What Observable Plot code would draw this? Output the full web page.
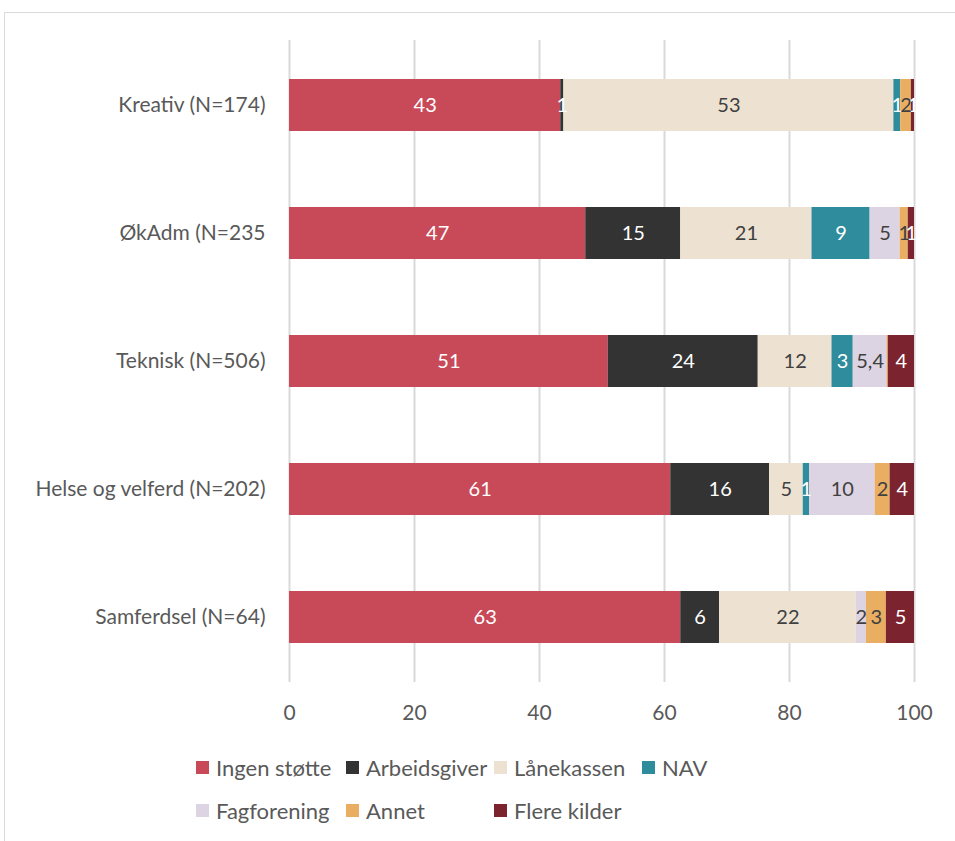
<!DOCTYPE html>
<html>
<head>
<meta charset="utf-8">
<script src="https://cdn.jsdelivr.net/npm/d3@7"></script>
<script src="https://cdn.jsdelivr.net/npm/@observablehq/plot@0.6"></script>
<style>
  html, body { margin: 0; padding: 0; background: #fff; }
  body { width: 955px; height: 841px; overflow: hidden; position: relative; font-family: Lato, "Open Sans", sans-serif; }
  #frame { position: absolute; left: 4px; top: 12px; width: 970px; height: 850px; border: 1px solid #d9d9d9; box-sizing: border-box; }
  #chart { position: absolute; left: 0; top: 0; }
  #legend { position: absolute; left: 196px; top: 746px; display: grid; grid-template-columns: 150px 148px 148px 148px; grid-auto-rows: 43px; }
  .item { display: flex; align-items: center; font-size: 22px; color: #595959; white-space: nowrap; }
  .sw { width: 13px; height: 13px; margin-right: 7px; flex: none; }
</style>
</head>
<body>
<div id="frame"></div>
<div id="chart"></div>
<div id="legend"></div>
<script>
const categories = ["Kreativ (N=174)", "ØkAdm (N=235", "Teknisk (N=506)", "Helse og velferd (N=202)", "Samferdsel (N=64)"];
const seriesNames = ["Ingen støtte", "Arbeidsgiver", "Lånekassen", "NAV", "Fagforening", "Annet", "Flere kilder"];
const seriesColors = ["#c84a58", "#333333", "#ede2d2", "#2e8c9c", "#dcd4e2", "#e9ae62", "#7b2430"];
const darkBg = new Set(["Ingen støtte", "Arbeidsgiver", "NAV", "Flere kilder"]);

const ingenStotte  = [43.4, 47.4, 51.0, 61.0, 62.6];
const arbeidsgiver = [0.5, 15.2, 24.0, 15.8, 6.2];
const lanekassen   = [52.8, 21.0, 11.8, 5.4, 21.9];
const nav          = [1.1, 9.3, 3.4, 1.0, 0];
const fagforening  = [0, 4.8, 5.4, 10.5, 1.6];
const annet        = [1.7, 1.3, 0.2, 2.4, 3.2];
const flereKilder  = [0.5, 1.0, 4.2, 3.9, 4.5];

const ingenLbl  = ["43", "47", "51", "61", "63"];
const arbLbl    = ["1", "15", "24", "16", "6"];
const lanLbl    = ["53", "21", "12", "5", "22"];
const navLbl    = ["1", "9", "3", "1", ""];
const fagLbl    = ["", "5", "5,4", "10", "2"];
const annetLbl  = ["2", "1", "", "2", "3"];
const flereLbl  = ["1", "1", "4", "4", "5"];

const xTicks = [0, 20, 40, 60, 80, 100];

const seriesValues = [ingenStotte, arbeidsgiver, lanekassen, nav, fagforening, annet, flereKilder];
const seriesLabels = [ingenLbl, arbLbl, lanLbl, navLbl, fagLbl, annetLbl, flereLbl];

const data = [];
seriesNames.forEach((s, si) => {
  categories.forEach((c, ci) => {
    data.push({cat: c, series: s, value: seriesValues[si][ci], label: seriesLabels[si][ci]});
  });
});

const font = "Lato, 'Open Sans', sans-serif";

const plot = Plot.plot({
  width: 955,
  height: 742,
  marginLeft: 289,
  marginRight: 41,
  marginTop: 40,
  marginBottom: 60,
  style: {fontFamily: font, background: "transparent"},
  x: {domain: [0, 100], ticks: xTicks},
  y: {domain: categories, paddingInner: 0.595, paddingOuter: 0.2975},
  color: {domain: seriesNames, range: seriesColors},
  marks: [
    Plot.gridX(xTicks, {stroke: "#d9d9d9", strokeOpacity: 1, strokeWidth: 2}),
    Plot.barX(data, Plot.stackX({x: "value", y: "cat", z: "series", fill: "series", order: seriesNames})),
    Plot.text(data, Plot.stackX({x: "value", y: "cat", z: "series", order: seriesNames, text: d => darkBg.has(d.series) ? d.label : "", fill: "white", fontSize: 20})),
    Plot.text(data, Plot.stackX({x: "value", y: "cat", z: "series", order: seriesNames, text: d => darkBg.has(d.series) ? "" : d.label, fill: "#404040", fontSize: 20})),
    Plot.axisX({ticks: xTicks, tickSize: 0, tickPadding: 23, fontSize: 21, fill: "#595959", label: null}),
    Plot.axisY({tickSize: 0, tickPadding: 24, fontSize: 21, fill: "#595959", label: null})
  ]
});
document.getElementById("chart").appendChild(plot);

const legend = document.getElementById("legend");
const legendOrder = ["Ingen støtte", "Arbeidsgiver", "Lånekassen", "NAV", "Fagforening", "Annet", "Flere kilder"];
legendOrder.forEach((s) => {
  const it = document.createElement("div");
  it.className = "item";
  const sw = document.createElement("span");
  sw.className = "sw";
  sw.style.background = seriesColors[seriesNames.indexOf(s)];
  const t = document.createElement("span");
  t.textContent = s;
  it.appendChild(sw); it.appendChild(t);
  legend.appendChild(it);
});
</script>
</body>
</html>
